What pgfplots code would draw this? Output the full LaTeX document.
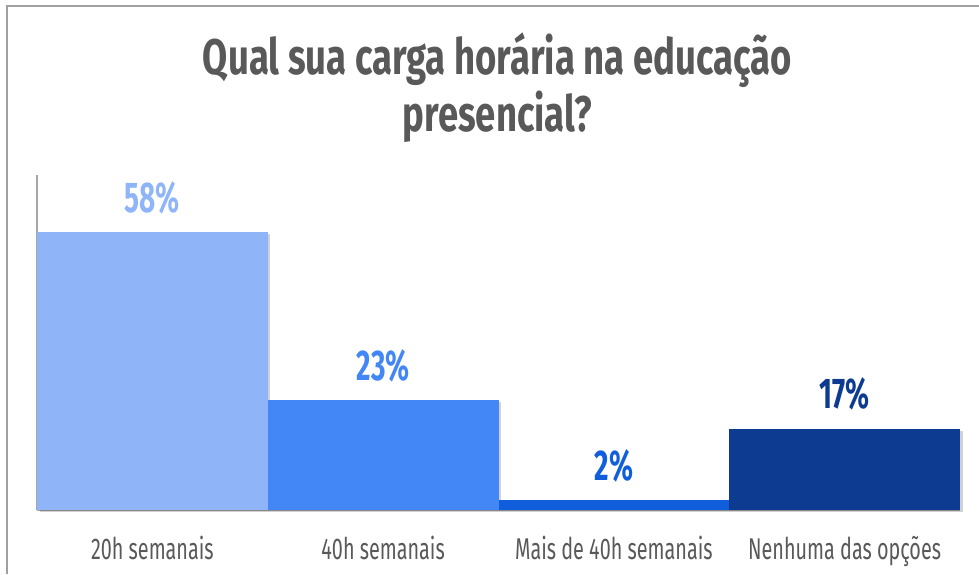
\documentclass[border=0pt]{standalone}
\usepackage{pgfplots}
\pgfplotsset{compat=1.18}
\usepackage{fontspec}
\setmainfont{Fira Sans}[FakeStretch=0.66]
\newfontfamily\titlefont{Fira Sans}[FakeStretch=0.73]
\newfontfamily\valfont{Fira Sans}[FakeStretch=0.65]
\usetikzlibrary{shadows}
\definecolor{cA}{HTML}{8FB5F8}
\definecolor{cB}{HTML}{4287F5}
\definecolor{cC}{HTML}{115EDC}
\definecolor{cD}{HTML}{0D3B91}
\definecolor{titlegray}{HTML}{595959}
\definecolor{axisgray}{HTML}{A6A6A6}
\definecolor{framegray}{HTML}{A0A0A0}
\begin{document}
\begin{tikzpicture}[x=1pt,y=1pt]
\path[use as bounding box] (0,0) rectangle (979,574);
\draw[color=framegray, line width=2pt] (7,0) -- (7,568) -- (979,568);
\node[anchor=base, text=titlegray, font=\titlefont\bfseries\fontsize{50}{60}\selectfont, inner sep=0pt] at (497.5,499) {Qual sua carga horária na educação};
\node[anchor=base, text=titlegray, font=\titlefont\bfseries\fontsize{50}{60}\selectfont, inner sep=0pt] at (497.5,442) {presencial?};
\begin{axis}[
  at={(37pt,64pt)}, anchor=south west,
  scale only axis, width=923pt, height=335pt,
  xmin=-0.5, xmax=3.5, ymin=0, ymax=70,
  axis x line*=bottom, axis y line*=left,
  axis line style={draw=axisgray, line width=1.2pt},
  ytick=\empty,
  xtick={0,1,2,3},
  xticklabels={20h semanais, 40h semanais, Mais de 40h semanais, Nenhuma das opções},
  major tick length=0pt,
  xticklabel style={font=\fontsize{30}{36}\selectfont, text=titlegray, anchor=north, inner sep=0pt, yshift=-26pt},
  clip=false,
  /pgf/number format/assume math mode=true,
  nodes near coords={\pgfmathprintnumber{\pgfplotspointmeta}\%},
  nodes near coords style={font=\valfont\bfseries\fontsize{43}{50}\selectfont, anchor=south, inner sep=0pt, yshift=18pt},
  every axis plot/.append style={ybar, bar width=1, bar shift=0pt, draw=none,
    drop shadow={shadow xshift=2.5pt, shadow yshift=-2pt, opacity=0.18, fill=black}},
]
\addplot[fill=cA, every node near coord/.append style={text=cA}] coordinates {(0,58)};
\addplot[fill=cB, every node near coord/.append style={text=cB}] coordinates {(1,23)};
\addplot[fill=cC, every node near coord/.append style={text=cC}] coordinates {(2,2)};
\addplot[fill=cD, every node near coord/.append style={text=cD}] coordinates {(3,17)};
\end{axis}
\end{tikzpicture}
\end{document}
